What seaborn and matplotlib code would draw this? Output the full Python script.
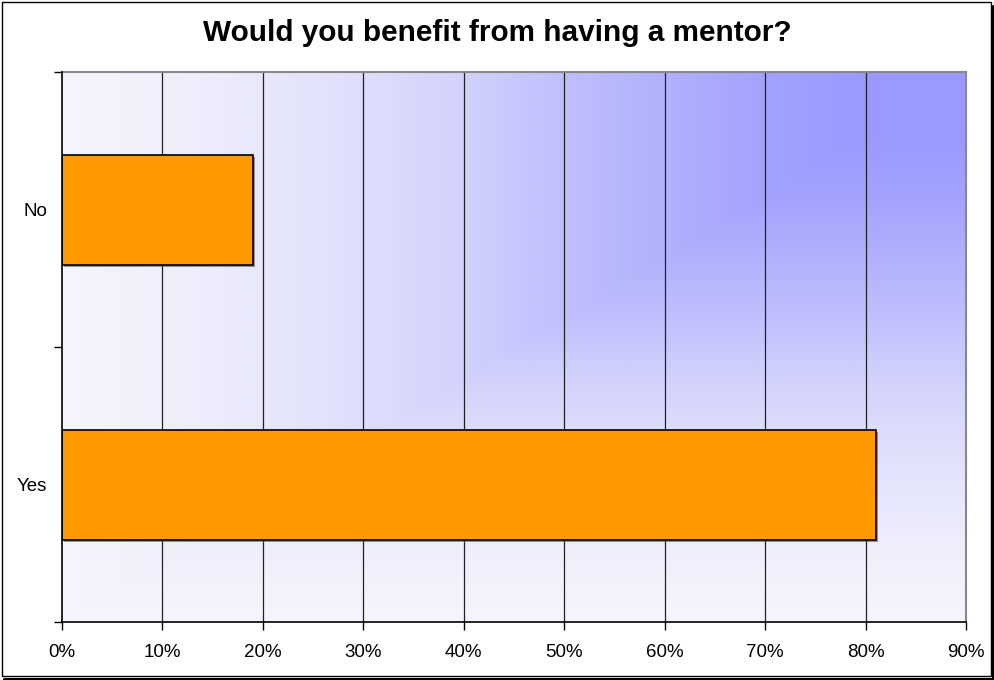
import numpy as np
import pandas as pd
import matplotlib
matplotlib.use("Agg")
import matplotlib.pyplot as plt
import matplotlib.patheffects as pe
from matplotlib.patches import Rectangle
from matplotlib.lines import Line2D
from matplotlib.ticker import FixedLocator, FuncFormatter
import seaborn as sns

title = "Would you benefit from having a mentor?"
categories = ["No", "Yes"]
values = [19, 81]
xticks = [0, 10, 20, 30, 40, 50, 60, 70, 80, 90]

sns.set_theme(style="white")
plt.rcParams['font.family'] = ['Liberation Sans', 'DejaVu Sans']

W, H = 994, 680
fig = plt.figure(figsize=(W / 100, H / 100), dpi=100)
L, R, T, B = 62, 966, 72, 622
ax = fig.add_axes([L / W, 1 - B / H, (R - L) / W, (B - T) / H])

# gradient background (from corner)
n = 500
xs = np.linspace(0, 1, n)
ys = np.linspace(1, 0, n)
X, Y = np.meshgrid(xs, ys)
t = np.minimum(X, Y)
ramp_x = [0, .11, .22, .33, .44, .55, .67, .78, .89, 1.0]
ramp_rg = [245, 240, 232, 222, 210, 192, 176, 162, 153, 153]
ramp_b = [253, 252, 252, 251, 253, 253, 253, 254, 255, 255]
rg = np.interp(t, ramp_x, ramp_rg) / 255
bb = np.interp(t, ramp_x, ramp_b) / 255
img = np.dstack([rg, rg, bb])
ax.imshow(img, extent=[0, 1, 0, 1], transform=ax.transAxes, aspect='auto', zorder=0, interpolation='bilinear')

df = pd.DataFrame({"cat": categories, "val": values})
sns.barplot(data=df, x="val", y="cat", order=categories, orient="h", width=0.4,
            color="#FF9900", saturation=1, edgecolor="black", linewidth=1.2, ax=ax, zorder=3)
for p in ax.patches:
    p.set_path_effects([pe.SimplePatchShadow(offset=(1.5, -1.5), shadow_rgbFace='#555555', alpha=0.6), pe.Normal()])

ax.set_xlim(0, 90)
ax.set_ylim(1.5, -0.5)
ax.set_xlabel("")
ax.set_ylabel("")

ax.xaxis.set_major_locator(FixedLocator(xticks))
ax.xaxis.set_major_formatter(FuncFormatter(lambda v, p: f"{int(v)}%"))
for v in xticks[1:-1]:
    ax.axvline(v, color="#222222", lw=0.9, zorder=1)

ax.yaxis.set_minor_locator(FixedLocator([-0.5, 0.5, 1.5]))
ax.tick_params(axis='y', which='major', length=0, pad=10.5, labelsize=13.5, labelcolor='black')
ax.tick_params(axis='y', which='minor', length=6, width=1, color='black', direction='out', left=True)
ax.tick_params(axis='x', which='major', length=6, width=1, color='black', direction='out', bottom=True,
               pad=10, labelsize=13.5, labelcolor='black')

for s in ['left', 'bottom']:
    ax.spines[s].set_color('black')
    ax.spines[s].set_linewidth(1.2)
    ax.spines[s].set_zorder(5)
for s in ['top', 'right']:
    ax.spines[s].set_color('#888888')
    ax.spines[s].set_linewidth(1.5)
    ax.spines[s].set_visible(True)

fig.text(0.5, 1 - 33 / H, title, ha='center', va='center', fontsize=21.4, fontweight='bold', color='black')

# chart-area frame with shadow at right / bottom
frame = Rectangle((1.5 / W, 4 / H), 989.5 / W, 674.5 / H, transform=fig.transFigure, fill=False,
                  edgecolor='black', linewidth=1.0, zorder=10)
fig.patches.append(frame)
fig.lines.append(Line2D([4 / W, 993 / W], [1.5 / H, 1.5 / H], transform=fig.transFigure,
                        color='black', lw=2.2, zorder=10))
fig.lines.append(Line2D([992.5 / W, 992.5 / W], [1.5 / H, 674 / H], transform=fig.transFigure,
                        color='black', lw=2.2, zorder=10))

fig.savefig("out.png", dpi=100)
